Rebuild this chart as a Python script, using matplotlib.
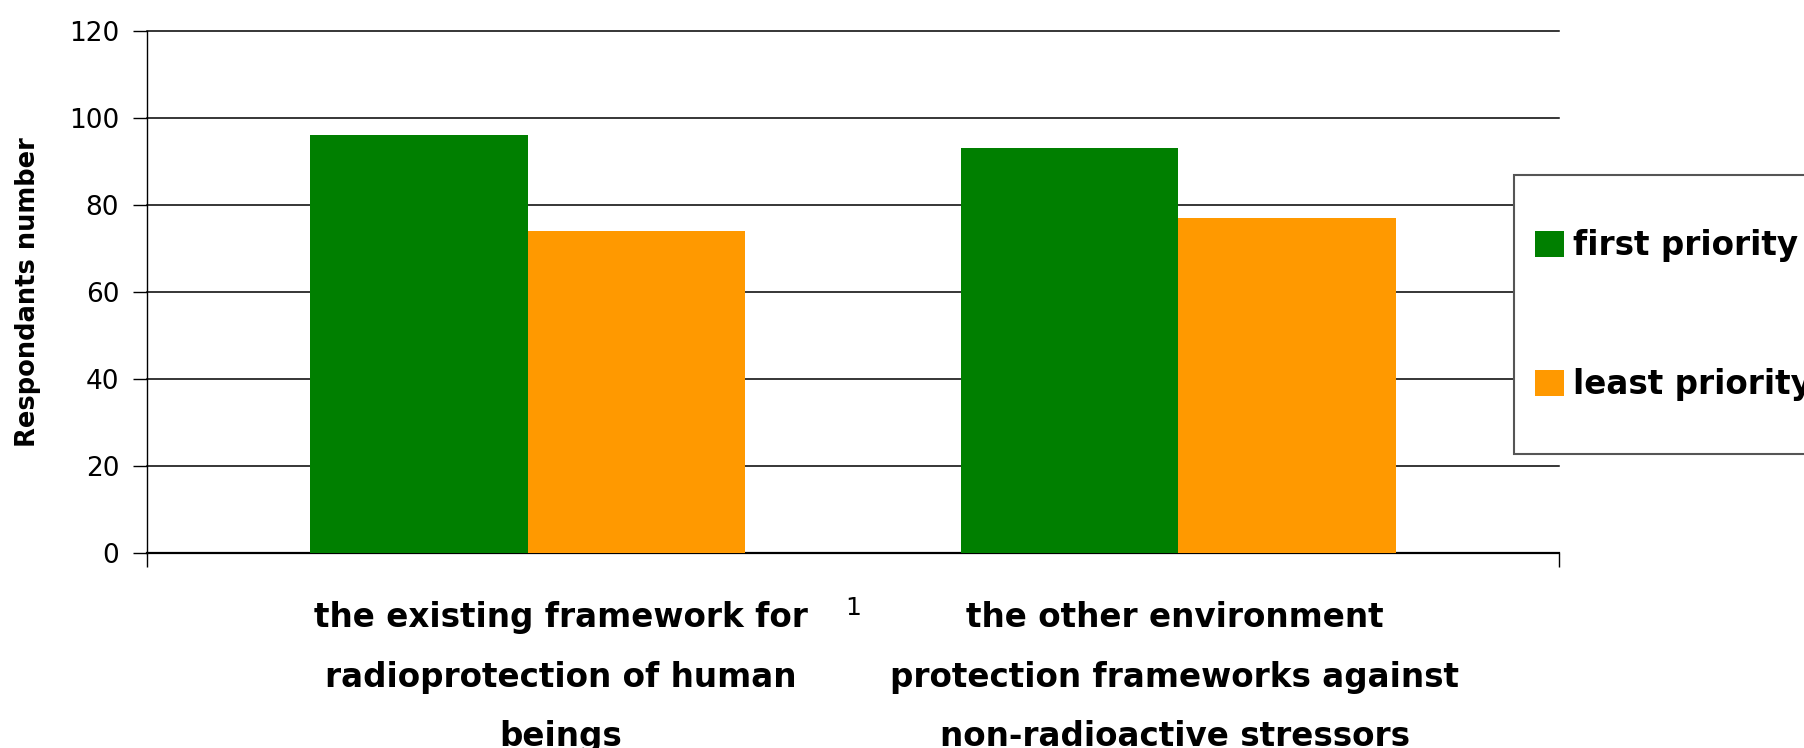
import matplotlib.pyplot as plt
from matplotlib.patches import Rectangle

categories = ["the existing framework for\nradioprotection of human\nbeings",
              "the other environment\nprotection frameworks against\nnon-radioactive stressors"]
first_priority = [96, 93]
least_priority = [74, 77]
series_names = ["first priority", "least priority"]
yticks = [0, 20, 40, 60, 80, 100, 120]

green = "#007f00"
orange = "#ff9900"

W, H = 1804, 748
fig = plt.figure(figsize=(W / 100, H / 100), dpi=100)
ax = fig.add_axes([147 / W, 1 - 553 / H, (1559 - 147) / W, (553 - 31) / H])

xpos = list(range(len(categories)))
bw = 0.334
b1 = ax.bar([x - bw / 2 for x in xpos], first_priority, bw, color=green,
            label=series_names[0], zorder=3)
b2 = ax.bar([x + bw / 2 for x in xpos], least_priority, bw, color=orange,
            label=series_names[1], zorder=3)

xl = (-0.585, 1.585)
ax.set_xlim(*xl)
ax.set_ylim(0, 120)
ax.set_yticks(yticks)
ax.tick_params(axis="y", labelsize=19, length=10, width=1, direction="out", pad=10)
ax.yaxis.grid(True, color="black", linewidth=1.1, zorder=0)
for gl in ax.get_ygridlines():
    gl.set_clip_on(False)

# tick marks only at the ends of the category axis, "1" in the middle
ax.set_xticks(list(xl))
ax.set_xticklabels(["", ""])
ax.tick_params(axis="x", which="major", length=10, width=1, direction="out")
ax.set_xticks([0.5], minor=True)
ax.set_xticklabels(["1"], minor=True, fontsize=18)
ax.tick_params(axis="x", which="minor", length=0, pad=31)

for s in ["top", "right"]:
    ax.spines[s].set_visible(False)
ax.spines["left"].set_linewidth(1)
ax.spines["bottom"].set_linewidth(1.6)

ax.set_ylabel("Respondants number", fontsize=18.5, fontweight="bold")
ax.yaxis.set_label_coords(-0.075, 0.5)

label_x = [561, 1175]
for lx, txt in zip(label_x, categories):
    fig.text(lx / W, 1 - 601 / H, txt, ha="center", va="top", fontsize=23.5,
             fontweight="bold", linespacing=2.02)

# legend box
fig.patches.append(Rectangle((1514 / W, 1 - 454 / H), 400 / W, (454 - 175) / H,
                             transform=fig.transFigure, facecolor="white",
                             edgecolor="#555555", linewidth=1.5, zorder=5))
# one entry per legend so each row sits exactly where it should
for handle, name, yc in zip([b1, b2], series_names, [246, 385]):
    leg = fig.legend(handles=[handle], labels=[name], loc="center left",
                     bbox_to_anchor=(1535 / W, 1 - yc / H), frameon=False,
                     prop={"size": 23.5, "weight": "bold"}, handlelength=0.89,
                     handleheight=0.83, handletextpad=0.28, borderpad=0,
                     borderaxespad=0)
    leg.set_zorder(6)

fig.savefig("out.png", dpi=100)
